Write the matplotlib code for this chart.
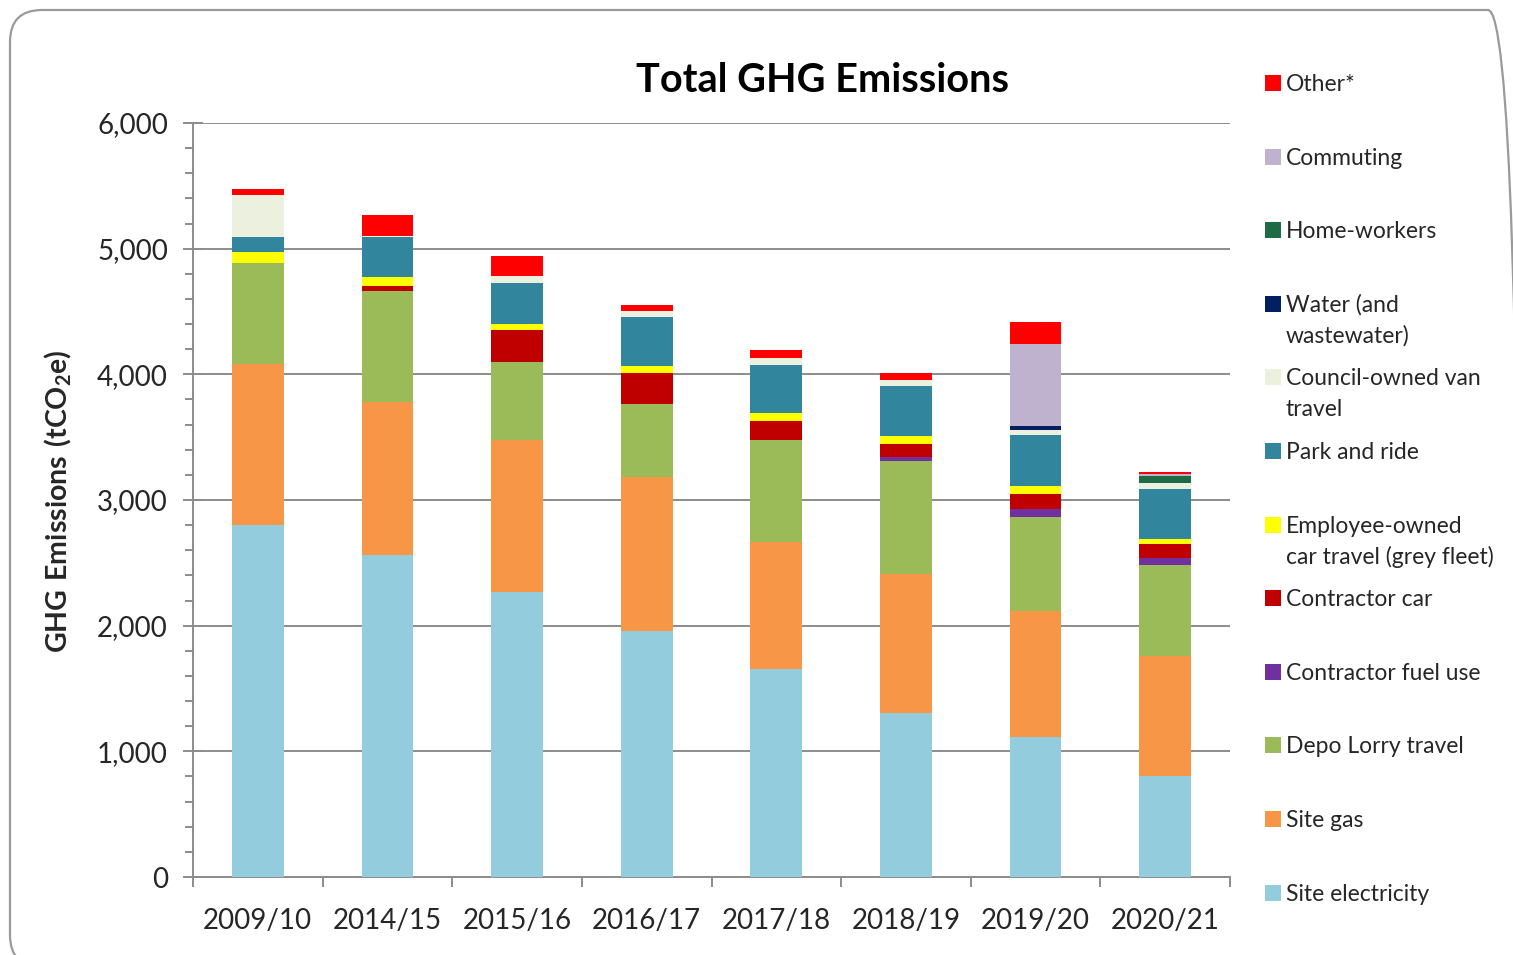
import matplotlib
matplotlib.use('Agg')
import matplotlib.pyplot as plt
import numpy as np
from matplotlib.patches import FancyBboxPatch, Rectangle
from matplotlib.ticker import MultipleLocator, FuncFormatter
from matplotlib.transforms import IdentityTransform

# Data (tCO2e), stacked bottom to top
years = ['2009/10', '2014/15', '2015/16', '2016/17', '2017/18', '2018/19', '2019/20', '2020/21']
site_electricity = [2800, 2560, 2265, 1955, 1653, 1305, 1113, 803]
site_gas = [1285, 1216, 1209, 1225, 1010, 1104, 1001, 954]
depo_lorry = [800, 890, 622, 585, 811, 900, 750, 728]
contractor_fuel = [0, 0, 0, 0, 0, 32, 61, 56]
contractor_car = [0, 40, 257, 244, 153, 106, 120, 111]
grey_fleet = [85, 66, 48, 61, 63, 59, 63, 35]
park_and_ride = [120, 322, 323, 384, 388, 405, 406, 402]
council_van = [340, 10, 60, 48, 50, 47, 47, 45]
water = [0, 0, 0, 0, 0, 0, 24, 0]
home_workers = [0, 0, 0, 0, 0, 0, 0, 60]
commuting = [0, 0, 0, 0, 0, 0, 657, 12]
other = [45, 164, 154, 53, 69, 53, 172, 15]

series = [
    ('Site electricity', site_electricity, '#93CDDD'),
    ('Site gas', site_gas, '#F79646'),
    ('Depo Lorry travel', depo_lorry, '#9BBB59'),
    ('Contractor fuel use', contractor_fuel, '#7030A0'),
    ('Contractor car', contractor_car, '#C00000'),
    ('Employee-owned\ncar travel (grey fleet)', grey_fleet, '#FFFF00'),
    ('Park and ride', park_and_ride, '#31859C'),
    ('Council-owned van\ntravel', council_van, '#EBF1DE'),
    ('Water (and\nwastewater)', water, '#002060'),
    ('Home-workers', home_workers, '#1E6B45'),
    ('Commuting', commuting, '#BFB2CF'),
    ('Other*', other, '#FF0000'),
]

W, H = 1513, 955
plt.rcParams['font.family'] = ['Lato', 'DejaVu Sans']
plt.rcParams['mathtext.fontset'] = 'custom'
plt.rcParams['mathtext.rm'] = 'Lato'
plt.rcParams['mathtext.bf'] = 'Lato:bold'
text_color = '#262626'

fig = plt.figure(figsize=(W / 100, H / 100), dpi=100)
ax = fig.add_axes([193 / W, 1 - 877 / H, (1230 - 193) / W, (877 - 123) / H])

x = np.arange(len(years))
bottom = np.zeros(len(years))
for name, vals, col in series:
    vals = np.array(vals, dtype=float)
    ax.bar(x, vals, width=0.4, bottom=bottom, color=col, edgecolor='none', zorder=3)
    bottom += vals

# axes styling
ax.set_xlim(-0.5, len(years) - 0.5)
ax.set_ylim(0, 6000)
ax.yaxis.set_major_locator(MultipleLocator(1000))
ax.yaxis.set_minor_locator(MultipleLocator(200))
ax.yaxis.set_major_formatter(FuncFormatter(lambda v, p: f'{int(v):,}'))
ax.grid(axis='y', which='major', color='#8c8c8c', linewidth=1.4, zorder=0)
for s in ['top', 'right']:
    ax.spines[s].set_visible(False)
for s in ['left', 'bottom']:
    ax.spines[s].set_color('#8c8c8c')
    ax.spines[s].set_linewidth(1.4)

ax.set_xticks(x)
ax.set_xticklabels(years)
ax.set_xticks(np.arange(-0.5, len(years)), minor=True)
ax.tick_params(axis='x', which='major', length=0, pad=22, labelsize=20, labelcolor=text_color)
ax.tick_params(axis='x', which='minor', length=7, width=1.4, color='#8c8c8c', direction='out')
ax.tick_params(axis='y', which='major', length=14, width=1.4, color='#8c8c8c', direction='inout',
               pad=11, labelsize=20, labelcolor=text_color)
ax.tick_params(axis='y', which='minor', length=6, width=1.4, color='#8c8c8c', direction='out')

# title and axis label
fig.text(822 / W, 1 - 80 / H, 'Total GHG Emissions', ha='center', va='center',
         fontsize=28.5, fontweight='bold', color='#000000')
fig.text(58 / W, 1 - 501 / H, r'$\mathbf{GHG\ Emissions\ (tCO_2e)}$', rotation=90,
         ha='center', va='center', fontsize=20.5, color=text_color)

# legend, drawn by hand so the rows keep an even pitch like the original
for i, (name, vals, col) in enumerate(series[::-1]):
    base = 91 + i * 73.6
    fig.patches.append(Rectangle((1265, H - base), 16, 16, transform=IdentityTransform(),
                                 facecolor=col, edgecolor='none', figure=fig))
    for j, line in enumerate(name.split('\n')):
        fig.text(1286 / W, 1 - (base + j * 31) / H, line, ha='left', va='baseline',
                 fontsize=16.5, color=text_color)

# rounded frame around the chart area
fig.patches.append(FancyBboxPatch((10, -12), 1510, 957, boxstyle='round,pad=0,rounding_size=32',
                                  transform=IdentityTransform(), facecolor='none',
                                  edgecolor='#9a9a9a', linewidth=1.6, figure=fig))

fig.savefig('out.png', dpi=100)
